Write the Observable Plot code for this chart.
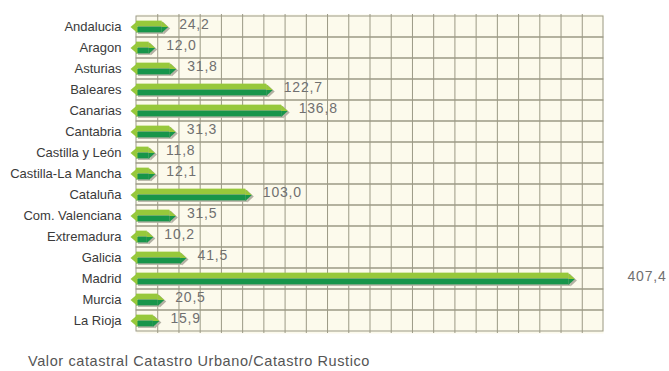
<!DOCTYPE html>
<html><head><meta charset="utf-8">
<script src="https://cdn.jsdelivr.net/npm/d3@7"></script>
<script src="https://cdn.jsdelivr.net/npm/@observablehq/plot@0.6"></script>
<style>
body{margin:0;background:#fff;font-family:"Liberation Sans",Arial,sans-serif;}
#chart svg{display:block;}
#caption{margin-top:12px;height:19px;line-height:19px;padding-left:28px;font-size:14.5px;letter-spacing:0.6px;color:#555;white-space:nowrap;}
</style>
</head><body>
<div id="chart"></div>
<div id="caption">Valor catastral Catastro Urbano/Catastro Rustico</div>
<script>
const regions = ["Andalucia","Aragon","Asturias","Baleares","Canarias","Cantabria","Castilla y León","Castilla-La Mancha","Cataluña","Com. Valenciana","Extremadura","Galicia","Madrid","Murcia","La Rioja"];
const values = [24.2,12.0,31.8,122.7,136.8,31.3,11.8,12.1,103.0,31.5,10.2,41.5,407.4,20.5,15.9];
const valueLabels = ["24,2","12,0","31,8","122,7","136,8","31,3","11,8","12,1","103,0","31,5","10,2","41,5","407,4","20,5","15,9"];
const gridTicks = d3.range(20, 440, 20);

const data = regions.map((r, i) => ({region: r, value: values[i], label: valueLabels[i]}));

const W = 669, H = 340, mT = 14, mB = 7, mL = 136, mR = 66;
const bw = (H - mT - mB) / regions.length;
const half = 6;
const light = "#97c83b", dark = "#17954a", shadow = "#b3b1a3", gridColor = "#9b9985";

function sym(points) {
  return {draw(ctx) {
    ctx.moveTo(points[0][0], points[0][1]);
    for (let k = 1; k < points.length; k++) ctx.lineTo(points[k][0], points[k][1]);
    ctx.closePath();
  }};
}
const tipLight = sym([[-0.5,-half],[6,0],[-0.5,0]]);
const tipDark = sym([[-0.5,0],[6,0],[-0.5,half]]);
const tipShadow = sym([[-0.5,-half],[6,0],[-0.5,half]]);
const tail = sym([[1,-half],[-6,0],[1,half]]);
const zeros = data.map(d => ({region: d.region, value: 0}));

const chart = Plot.plot({
  width: W, height: H,
  marginTop: mT, marginBottom: mB, marginLeft: mL, marginRight: mR,
  style: {color: "#3a3a3a", background: "transparent", fontFamily: "'Liberation Sans', Arial, sans-serif"},
  x: {domain: [0, 440], axis: null},
  y: {domain: regions, padding: 0, label: null},
  marks: [
    Plot.frame({fill: "#fcfaec", stroke: null}),
    Plot.ruleX(gridTicks, {stroke: gridColor, strokeWidth: 1}),
    Plot.barX(regions, {x1: 0, x2: 440, y: d => d, fill: "none", stroke: gridColor, strokeWidth: 1}),
    // shadow
    Plot.barX(data, {x: "value", y: "region", fill: shadow, insetTop: bw/2 - half, insetBottom: bw/2 - half, dx: 2, dy: 1.5}),
    Plot.dot(data, {x: "value", y: "region", symbol: tipShadow, fill: shadow, stroke: "none", dx: 2, dy: 1.5}),
    // body
    Plot.barX(data, {x: "value", y: "region", fill: light, insetTop: bw/2 - half, insetBottom: bw/2}),
    Plot.barX(data, {x: "value", y: "region", fill: dark, insetTop: bw/2, insetBottom: bw/2 - half}),
    Plot.dot(data, {x: "value", y: "region", symbol: tipLight, fill: light, stroke: "none"}),
    Plot.dot(data, {x: "value", y: "region", symbol: tipDark, fill: dark, stroke: "none"}),
    Plot.dot(zeros, {x: "value", y: "region", symbol: tail, fill: light, stroke: "none"}),
    // labels
    Plot.text(data.filter(d => d.value < 380), {x: "value", y: "region", text: "label", textAnchor: "start", dx: 17, dy: -2, fontSize: 14, fill: "#707070"}),
    Plot.text(data.filter(d => d.value >= 380), {y: "region", text: "label", frameAnchor: "right", textAnchor: "start", dx: 24, dy: -2, fontSize: 14, fill: "#707070"}),
    Plot.axisY({tickSize: 0, tickPadding: 15, fontSize: 13, label: null})
  ]
});
d3.select(chart).selectAll('g[aria-label="text"] text').style("letter-spacing", "0.8px");
document.getElementById("chart").appendChild(chart);
</script>
</body></html>
